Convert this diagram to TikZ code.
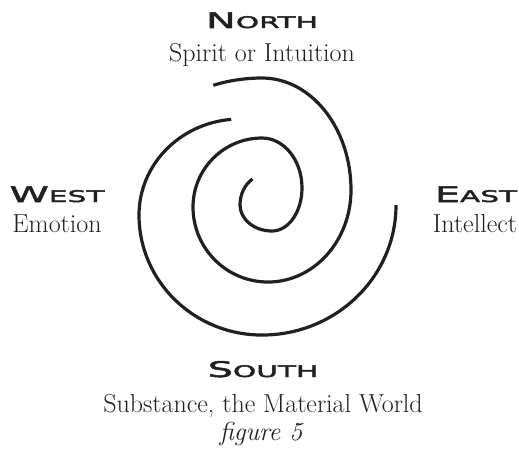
\documentclass[tikz,border=0pt]{standalone}
\usepackage{fontspec}
\newfontfamily\headfont[FakeStretch=1.85,FakeBold=2.5]{DejaVu Sans}
\definecolor{ink}{HTML}{231F20}
\newcommand\compass[2]{{\headfont\fontsize{21.5}{21.5}\selectfont#1%
  \fontsize{16}{16}\selectfont#2}}

\begin{document}
\begin{tikzpicture}[x=1pt,y=-1pt,
  quarter/.style={font=\headfont,text=ink,anchor=base,inner sep=0pt},
  gloss/.style={font=\fontsize{26}{28}\selectfont,text=ink,anchor=base,inner sep=0pt},
  arm/.style={draw=ink,line width=3.2pt}
]
  \useasboundingbox (0,0) rectangle (519,449);

  % ---- Compass labels ------------------------------------------
  \node[quarter] (north) at (262,28) {\compass{N}{ORTH}};
  \node[gloss]   (spirit) at (262,62) {Spirit or Intuition};

  \node[quarter] (west) at (57,202) {\compass{W}{EST}};
  \node[gloss]   (emotion) at (57,233) {Emotion};

  \node[quarter] (east) at (476,202) {\compass{E}{AST}};
  \node[gloss]   (intellect) at (475,233) {Intellect};

  \node[quarter] (south) at (263,377) {\compass{S}{OUTH}};
  \node[gloss]   (substance) at (263,412) {Substance, the Material World};
  \node[gloss,font=\fontsize{26}{28}\selectfont\itshape] (caption) at (261,440) {figure 5};

  % ---- Spiral: arm winding in to the centre --------------------
  \draw[arm] (213.3,85.3)
    arc[start angle=248,end angle=270,x radius=130,y radius=100]
    arc[start angle=270,end angle=360,x radius=89,y radius=112]
    arc[start angle=0,end angle=90,x radius=83,y radius=92]
    arc[start angle=90,end angle=180,x radius=75,y radius=75]
    arc[start angle=180,end angle=270,x radius=69,y radius=69]
    arc[start angle=270,end angle=360,x radius=40,y radius=50]
    arc[start angle=0,end angle=90,x radius=30,y radius=43]
    arc[start angle=90,end angle=180,x radius=32,y radius=26]
    arc[start angle=180,end angle=240,x radius=25,y radius=30];

  % ---- Spiral: outer arm ---------------------------------------
  \draw[arm] (231.2,119.4)
    arc[start angle=265,end angle=180,x radius=101,y radius=96]
    arc[start angle=180,end angle=90,x radius=123,y radius=120]
    arc[start angle=90,end angle=0,x radius=134,y radius=130];
\end{tikzpicture}
\end{document}
